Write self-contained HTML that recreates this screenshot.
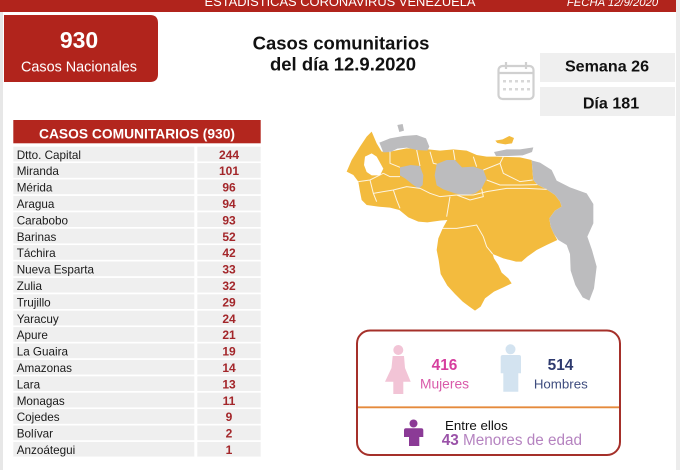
<!DOCTYPE html>
<html>
<head>
<meta charset="utf-8">
<style>
html,body{margin:0;padding:0;background:#fff;overflow:hidden;}
svg{display:block;font-family:"Liberation Sans",sans-serif;}
</style>
</head>
<body>
<svg width="680" height="470" viewBox="0 0 680 470" xmlns="http://www.w3.org/2000/svg">
<rect width="680" height="470" fill="#fff"/>
<rect x="0" y="12" width="3" height="458" fill="#e7e7e7"/>
<rect x="676" y="0" width="4" height="470" fill="#ececec"/>
<!-- header -->
<rect x="0" y="0" width="676" height="12" fill="#b1241c"/>
<text x="340" y="6" fill="#fff" font-size="12.9" text-anchor="middle">ESTADÍSTICAS CORONAVIRUS VENEZUELA</text>
<text x="612.5" y="6" fill="#fff" font-size="11.3" font-style="italic" text-anchor="middle">FECHA 12/9/2020</text>

<!-- 930 box -->
<path d="M4,15 H150 Q158,15 158,23 V74 Q158,82 150,82 H4 Z" fill="#b1241c"/>
<text x="79" y="48" fill="#fff" font-size="23" font-weight="bold" text-anchor="middle">930</text>
<text x="79" y="71.5" fill="#fff" font-size="14.4" text-anchor="middle">Casos Nacionales</text>

<!-- title -->
<text x="341" y="49.5" fill="#111" font-size="18.5" font-weight="bold" text-anchor="middle">Casos comunitarios</text>
<text x="343" y="70.5" fill="#111" font-size="18.5" font-weight="bold" text-anchor="middle">del día 12.9.2020</text>

<!-- calendar icon -->
<g fill="none" stroke="#d0d0d0" stroke-width="2.2">
<rect x="498.5" y="66" width="35" height="33" rx="4"/>
<line x1="498.5" y1="73" x2="533.5" y2="73"/>
<line x1="506" y1="62" x2="506" y2="69"/>
<line x1="526" y1="62" x2="526" y2="69"/>
</g>
<g fill="#d8d8d8">
<rect x="503" y="80" width="3" height="2.5"/><rect x="509" y="80" width="3" height="2.5"/><rect x="515" y="80" width="3" height="2.5"/><rect x="521" y="80" width="3" height="2.5"/><rect x="527" y="80" width="3" height="2.5"/>
<rect x="503" y="88" width="3" height="2.5"/><rect x="509" y="88" width="3" height="2.5"/><rect x="515" y="88" width="3" height="2.5"/><rect x="521" y="88" width="3" height="2.5"/><rect x="527" y="88" width="3" height="2.5"/>
</g>

<!-- semana / dia -->
<rect x="540" y="53" width="135" height="29" fill="#efefef"/>
<text x="607" y="71.7" fill="#111" font-size="16.1" font-weight="bold" text-anchor="middle">Semana 26</text>
<rect x="540" y="87" width="135" height="29" fill="#efefef"/>
<text x="611" y="108.3" fill="#111" font-size="16.1" font-weight="bold" text-anchor="middle">Día 181</text>

<!-- table -->
<rect x="13.3" y="120" width="247.4" height="23.3" fill="#b3261e"/>
<text x="137" y="138.3" fill="#fff" font-size="13.8" font-weight="bold" text-anchor="middle">CASOS COMUNITARIOS (930)</text>

<g font-size="11.7" fill="#1a1a1a">
<rect x="13.3" y="146.7" width="181" height="14.7" fill="#efefef"/><rect x="197.3" y="146.7" width="63.4" height="14.7" fill="#efefef"/>
<rect x="13.3" y="163.1" width="181" height="14.7" fill="#efefef"/><rect x="197.3" y="163.1" width="63.4" height="14.7" fill="#efefef"/>
<rect x="13.3" y="179.5" width="181" height="14.7" fill="#efefef"/><rect x="197.3" y="179.5" width="63.4" height="14.7" fill="#efefef"/>
<rect x="13.3" y="195.9" width="181" height="14.7" fill="#efefef"/><rect x="197.3" y="195.9" width="63.4" height="14.7" fill="#efefef"/>
<rect x="13.3" y="212.3" width="181" height="14.7" fill="#efefef"/><rect x="197.3" y="212.3" width="63.4" height="14.7" fill="#efefef"/>
<rect x="13.3" y="228.7" width="181" height="14.7" fill="#efefef"/><rect x="197.3" y="228.7" width="63.4" height="14.7" fill="#efefef"/>
<rect x="13.3" y="245.1" width="181" height="14.7" fill="#efefef"/><rect x="197.3" y="245.1" width="63.4" height="14.7" fill="#efefef"/>
<rect x="13.3" y="261.5" width="181" height="14.7" fill="#efefef"/><rect x="197.3" y="261.5" width="63.4" height="14.7" fill="#efefef"/>
<rect x="13.3" y="277.9" width="181" height="14.7" fill="#efefef"/><rect x="197.3" y="277.9" width="63.4" height="14.7" fill="#efefef"/>
<rect x="13.3" y="294.3" width="181" height="14.7" fill="#efefef"/><rect x="197.3" y="294.3" width="63.4" height="14.7" fill="#efefef"/>
<rect x="13.3" y="310.7" width="181" height="14.7" fill="#efefef"/><rect x="197.3" y="310.7" width="63.4" height="14.7" fill="#efefef"/>
<rect x="13.3" y="327.1" width="181" height="14.7" fill="#efefef"/><rect x="197.3" y="327.1" width="63.4" height="14.7" fill="#efefef"/>
<rect x="13.3" y="343.5" width="181" height="14.7" fill="#efefef"/><rect x="197.3" y="343.5" width="63.4" height="14.7" fill="#efefef"/>
<rect x="13.3" y="359.9" width="181" height="14.7" fill="#efefef"/><rect x="197.3" y="359.9" width="63.4" height="14.7" fill="#efefef"/>
<rect x="13.3" y="376.3" width="181" height="14.7" fill="#efefef"/><rect x="197.3" y="376.3" width="63.4" height="14.7" fill="#efefef"/>
<rect x="13.3" y="392.7" width="181" height="14.7" fill="#efefef"/><rect x="197.3" y="392.7" width="63.4" height="14.7" fill="#efefef"/>
<rect x="13.3" y="409.1" width="181" height="14.7" fill="#efefef"/><rect x="197.3" y="409.1" width="63.4" height="14.7" fill="#efefef"/>
<rect x="13.3" y="425.5" width="181" height="14.7" fill="#efefef"/><rect x="197.3" y="425.5" width="63.4" height="14.7" fill="#efefef"/>
<rect x="13.3" y="441.9" width="181" height="14.7" fill="#efefef"/><rect x="197.3" y="441.9" width="63.4" height="14.7" fill="#efefef"/>

<text x="16.7" y="158.8">Dtto. Capital</text>
<text x="16.7" y="175.2">Miranda</text>
<text x="16.7" y="191.6">Mérida</text>
<text x="16.7" y="208.0">Aragua</text>
<text x="16.7" y="224.4">Carabobo</text>
<text x="16.7" y="240.8">Barinas</text>
<text x="16.7" y="257.2">Táchira</text>
<text x="16.7" y="273.6">Nueva Esparta</text>
<text x="16.7" y="290.0">Zulia</text>
<text x="16.7" y="306.4">Trujillo</text>
<text x="16.7" y="322.8">Yaracuy</text>
<text x="16.7" y="339.2">Apure</text>
<text x="16.7" y="355.6">La Guaira</text>
<text x="16.7" y="372.0">Amazonas</text>
<text x="16.7" y="388.4">Lara</text>
<text x="16.7" y="404.8">Monagas</text>
<text x="16.7" y="421.2">Cojedes</text>
<text x="16.7" y="437.6">Bolívar</text>
<text x="16.7" y="454.0">Anzoátegui</text>
</g>
<g font-size="12" font-weight="bold" fill="#a3262a" text-anchor="middle">
<text x="229" y="158.8">244</text>
<text x="229" y="175.2">101</text>
<text x="229" y="191.6">96</text>
<text x="229" y="208.0">94</text>
<text x="229" y="224.4">93</text>
<text x="229" y="240.8">52</text>
<text x="229" y="257.2">42</text>
<text x="229" y="273.6">33</text>
<text x="229" y="290.0">32</text>
<text x="229" y="306.4">29</text>
<text x="229" y="322.8">24</text>
<text x="229" y="339.2">21</text>
<text x="229" y="355.6">19</text>
<text x="229" y="372.0">14</text>
<text x="229" y="388.4">13</text>
<text x="229" y="404.8">11</text>
<text x="229" y="421.2">9</text>
<text x="229" y="437.6">2</text>
<text x="229" y="454.0">1</text>
</g>

<!-- map -->
<g transform="translate(340,110) scale(0.33333)">
<polygon fill="#f3bb3e" points="95,65 110,100 125,125 150,125 200,115 265,118 300,122 340,118 380,122 410,135 440,140 470,140 540,142 575,150 578,190 580,210 592,224 620,238 645,255 660,275 665,290 645,302 628,325 632,350 642,372 652,390 620,405 590,420 562,440 545,455 528,455 490,445 458,432 462,445 475,465 485,488 505,505 515,520 490,532 462,545 435,565 422,590 405,602 388,590 368,575 345,552 322,527 302,492 296,450 290,420 295,385 308,355 322,330 300,332 262,337 235,335 205,322 178,300 150,293 115,290 80,285 65,270 60,245 55,215 40,195 20,185 35,150 60,110 80,80"/>
<polygon fill="#bcbcbe" points="570,150 600,158 635,180 650,212 690,232 740,250 760,282 760,340 742,380 756,420 770,470 762,535 748,572 728,562 706,525 692,482 690,432 680,405 655,390 642,372 632,350 628,325 645,302 665,290 660,275 645,255 620,238 592,224 580,210 578,190 575,150"/>
<polygon fill="#bcbcbe" points="118,98 150,85 190,78 230,75 258,85 268,110 262,122 230,120 200,113 172,116 152,126 130,127"/>
<polygon fill="#bcbcbe" points="172,45 188,42 192,62 178,66"/>
<polygon fill="#bcbcbe" points="462,126 500,118 540,118 580,112 576,126 548,136 505,138 468,138"/>
<polygon fill="#f3bb3e" points="466,92 488,88 508,78 522,84 516,100 496,103 472,99"/>
<polygon fill="#bcbcbe" points="180,172 212,165 240,168 250,196 248,225 236,236 216,222 196,206 180,196"/>
<polygon fill="#bcbcbe" points="290,162 320,150 345,150 366,172 400,170 430,180 440,206 425,236 405,250 375,256 345,250 310,238 290,226 284,196"/>
<polygon fill="#fff" points="75,140 95,130 110,140 130,176 120,196 95,196 80,186 72,165"/>
<g fill="none" stroke="#fff" stroke-width="3" opacity="0.85">
<polyline points="55,215 90,210 130,190"/>
<polyline points="90,210 100,250 110,275"/>
<polyline points="130,190 150,200 180,200"/>
<polyline points="100,250 160,240 200,230 240,235"/>
<polyline points="160,240 170,270 180,295"/>
<polyline points="240,235 270,250 300,260 350,255"/>
<polyline points="330,260 320,320"/>
<polyline points="150,125 150,160 180,172"/>
<polyline points="230,120 240,168"/>
<polyline points="270,125 280,160 290,162"/>
<polyline points="340,120 345,150"/>
<polyline points="400,140 410,170"/>
<polyline points="430,180 480,160 490,140"/>
<polyline points="480,160 490,190 540,215 578,210"/>
<polyline points="440,210 480,225 540,225 592,224"/>
<polyline points="425,236 430,260 390,270 350,255"/>
<polyline points="300,355 350,355 410,345 430,380 440,410 458,432"/>
<polyline points="350,255 400,255 440,245 500,235 560,235 620,238"/>
</g>
</g>

<!-- bottom box -->
<rect x="357" y="330.5" width="263" height="124.5" rx="13" fill="none" stroke="#a5302a" stroke-width="2"/>
<line x1="358" y1="407.3" x2="619" y2="407.3" stroke="#e58a3c" stroke-width="1.8"/>

<!-- female icon -->
<g fill="#f2c4d6">
<circle cx="398.3" cy="350" r="5"/>
<path d="M392.7,356 H404 L405,368 L410.7,381.7 H403.3 V394 H393.3 V381.7 H385 L391.5,368 Z"/>
</g>
<text x="444.5" y="370" fill="#d63e9e" font-size="15.4" font-weight="bold" text-anchor="middle">416</text>
<text x="444.5" y="388.3" fill="#d95aa9" font-size="13.8" text-anchor="middle">Mujeres</text>

<!-- male icon -->
<g fill="#d3e3f0">
<circle cx="510.5" cy="349.3" r="5"/>
<path d="M503,355 H519 Q521,355 521,357 V373.3 H518.3 V391.7 H503.3 V373.3 H500.7 V357 Q500.7,355 503,355 Z"/>
</g>
<text x="560.5" y="370" fill="#2e3a6e" font-size="15.4" font-weight="bold" text-anchor="middle">514</text>
<text x="560.8" y="388.3" fill="#3e4c7e" font-size="13.3" text-anchor="middle">Hombres</text>

<!-- child icon -->
<g fill="#8b3a96">
<circle cx="413.5" cy="423.5" r="4"/>
<path d="M406,428.3 H421.3 Q423.3,428.3 423.3,430.3 V437 H419.3 V446 H409 V437 H404 V430.3 Q404,428.3 406,428.3 Z"/>
</g>
<text x="445" y="430" fill="#111" font-size="13.3">Entre ellos</text>
<text x="441.7" y="445" font-size="15.3"><tspan fill="#9a52a8" font-weight="bold">43</tspan><tspan fill="#b583c0"> Menores de edad</tspan></text>
</svg>
</body>
</html>
